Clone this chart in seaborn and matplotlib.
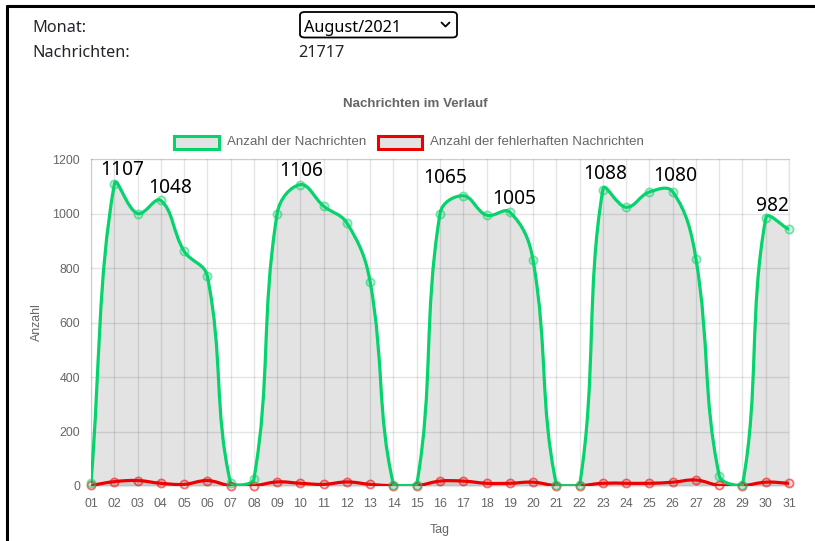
import numpy as np
import pandas as pd
import matplotlib
matplotlib.use("Agg")
import matplotlib.pyplot as plt
import seaborn as sns
from matplotlib.path import Path
from matplotlib.patches import PathPatch, Rectangle, FancyBboxPatch
from matplotlib.lines import Line2D

# ---------------- data ----------------
days = [f"{d:02d}" for d in range(1, 32)]
total_msgs = [10, 1107, 1000, 1048, 862, 770, 10, 25, 1000, 1106, 1027, 965, 748, 5, 5,
              1000, 1065, 994, 1005, 829, 5, 2, 1088, 1023, 1079, 1080, 834, 38, 3, 982, 942]
error_msgs = [2, 16, 20, 10, 6, 20, 1, 1, 15, 10, 6, 15, 6, 1, 1,
              18, 18, 10, 10, 14, 1, 1, 10, 10, 10, 14, 22, 2, 1, 14, 10]
labeled_days = ["02", "04", "10", "17", "19", "23", "26", "30"]
series_names = ["Anzahl der Nachrichten", "Anzahl der fehlerhaften Nachrichten"]
month_label = "August/2021"
message_count = "21717"
y_ticks = [0, 200, 400, 600, 800, 1000, 1200]

# ---------------- style ----------------
W, H = 815, 541
GREEN = "#05d36b"
RED = "#ee0000"
GRIDHEX = "#e6e6e6"
TXT = "#666666"
sns.set_theme(style="white")
plt.rcParams["font.family"] = ["Liberation Sans", "DejaVu Sans"]

def fx(x):
    return x / W

def fy(y):
    return 1 - y / H

fig = plt.figure(figsize=(W / 100, H / 100), dpi=100)
ax = fig.add_axes([fx(91), fy(486), (789 - 91) / W, (486 - 159) / H])

xnum = np.arange(1, len(days) + 1)
df = pd.DataFrame({"Tag": xnum, "total": total_msgs, "err": error_msgs})

ax.set_xlim(1, len(days))
ax.set_ylim(0, 1200)

# pixel scale for Chart.js-like spline
sx = ax.bbox.width / (len(days) - 1)
sy = ax.bbox.height / 1200.0


def spline_path(xs, ys, t=0.4, closed=False):
    X = np.asarray(xs, float) * sx
    Y = np.asarray(ys, float) * sy
    n = len(X)
    cps = []
    for i in range(n):
        px, py = (X[i - 1], Y[i - 1]) if i > 0 else (X[i], Y[i])
        nx, ny = (X[i + 1], Y[i + 1]) if i < n - 1 else (X[i], Y[i])
        d01 = np.hypot(X[i] - px, Y[i] - py)
        d12 = np.hypot(nx - X[i], ny - Y[i])
        s = d01 + d12
        s01 = d01 / s if s else 0
        s12 = d12 / s if s else 0
        fa, fb = t * s01, t * s12
        pc = [X[i] - fa * (nx - px), Y[i] - fa * (ny - py)]
        nc = [X[i] + fb * (nx - px), Y[i] + fb * (ny - py)]
        for c in (pc, nc):
            c[0] = min(max(c[0], X[0]), X[-1])
            c[1] = min(max(c[1], 0), 1200 * sy)
        cps.append((pc, nc))
    verts = [(X[0], Y[0])]
    codes = [Path.MOVETO]
    for i in range(n - 1):
        verts += [tuple(cps[i][1]), tuple(cps[i + 1][0]), (X[i + 1], Y[i + 1])]
        codes += [Path.CURVE4] * 3
    verts = [(vx / sx, vy / sy) for vx, vy in verts]
    if closed:
        verts += [(xs[-1], 0), (xs[0], 0), verts[0]]
        codes += [Path.LINETO, Path.LINETO, Path.CLOSEPOLY]
    return Path(verts, codes)


# grid
ax.set_axisbelow(True)
ax.set_xticks(xnum)
ax.set_xticklabels(days)
ax.set_yticks(y_ticks)
ax.grid(True, color="black", alpha=0.1, linewidth=1)
for s in ax.spines.values():
    s.set_color("black")
    s.set_alpha(0.1)
    s.set_linewidth(1)
    s.set_zorder(0.6)
ax.tick_params(axis="both", color=GRIDHEX, labelcolor=TXT, labelsize=8.9, length=5.8, width=1)
ax.tick_params(axis="x", pad=3)
ax.tick_params(axis="y", pad=2)

# fills (both datasets fill to origin)
for vals in (total_msgs, error_msgs):
    ax.add_patch(PathPatch(spline_path(xnum, vals, closed=True),
                           facecolor=(0, 0, 0, 0.11), edgecolor="none", zorder=1))

# lines
ax.add_patch(PathPatch(spline_path(xnum, error_msgs), facecolor="none",
                       edgecolor=RED, linewidth=2.3, zorder=3, capstyle="round", joinstyle="round"))
ax.add_patch(PathPatch(spline_path(xnum, total_msgs), facecolor="none",
                       edgecolor=GREEN, linewidth=2.3, zorder=4, capstyle="round", joinstyle="round"))

# points
sns.scatterplot(data=df, x="Tag", y="err", ax=ax, s=34, facecolor=(0.9, 0.2, 0.2, 0.12),
                edgecolor=(0.93, 0, 0, 0.55), linewidth=1.3, zorder=5, clip_on=False, legend=False)
sns.scatterplot(data=df, x="Tag", y="total", ax=ax, s=34, facecolor=(0.1, 0.8, 0.45, 0.15),
                edgecolor=(0.02, 0.83, 0.42, 0.55), linewidth=1.3, zorder=6, clip_on=False, legend=False)

ax.set_xlabel("")
ax.set_ylabel("")

# value labels
label_offsets = {"02": (8, 9), "04": (9, 7), "10": (1, 9), "17": (-18, 12.5),
                 "19": (4, 8), "23": (2, 10.5), "26": (3, 11), "30": (7, 7.5)}
for d in labeled_days:
    i = days.index(d)
    dx, dy = label_offsets[d]
    ax.annotate(str(total_msgs[i]), (xnum[i], total_msgs[i]),
                xytext=(dx * 0.72, dy * 0.72), textcoords="offset points",
                ha="center", va="baseline", fontsize=13.8, color="black",
                family=["Noto Sans", "DejaVu Sans"], zorder=7, annotation_clip=False)

# axis titles
fig.text(fx(37), fy(322), "Anzahl", rotation=90, ha="center", va="center", color=TXT, fontsize=8.9)
fig.text(fx(440), fy(530), "Tag", ha="center", va="center", color=TXT, fontsize=8.9)

# chart title
fig.text(fx(415), fy(104), "Nachrichten im Verlauf", ha="center", va="center",
         color=TXT, fontsize=9.6, fontweight="bold")

# legend
for (x0, x1, tx, col, name) in [(174, 219, 227, GREEN, series_names[0]),
                                (378, 422, 430, RED, series_names[1])]:
    fig.add_artist(Rectangle((fx(x0), fy(148.5)), (x1 - x0) / W, 13 / H, transform=fig.transFigure,
                             facecolor="#e3e3e3", edgecolor=col, linewidth=2.2))
    fig.text(fx(tx), fy(142), name, ha="left", va="center", color=TXT, fontsize=9.6)

# page header
PAGE = "#212529"
hdr_font = ["Noto Sans", "DejaVu Sans"]
fig.text(fx(32), fy(32), "Monat:", ha="left", va="baseline", fontsize=11.7, color=PAGE, family=hdr_font)
fig.text(fx(32), fy(57), "Nachrichten:", ha="left", va="baseline", fontsize=11.7, color=PAGE, family=hdr_font)
fig.text(fx(298), fy(57), message_count, ha="left", va="baseline", fontsize=11.7, color=PAGE, family=hdr_font)
fig.add_artist(FancyBboxPatch((fx(300), fy(37.5)), 157 / W, 25.5 / H, transform=fig.transFigure,
                              boxstyle="round,pad=0,rounding_size=0.006", facecolor="white",
                              edgecolor="black", linewidth=1.3))
fig.text(fx(304), fy(31.5), month_label, ha="left", va="baseline", fontsize=11.7, color="black", family=hdr_font)
fig.add_artist(Line2D([fx(441.5), fx(445.5), fx(449.5)], [fy(22.5), fy(26.5), fy(22.5)],
                      transform=fig.transFigure, color="black", linewidth=1.3))

# page frame
fig.add_artist(Line2D([fx(7), fx(815)], [fy(6), fy(6)], transform=fig.transFigure, color="black", linewidth=2.2))
fig.add_artist(Line2D([fx(7), fx(7)], [fy(6), fy(541)], transform=fig.transFigure, color="black", linewidth=2.2))

fig.savefig("out.png", dpi=100)
